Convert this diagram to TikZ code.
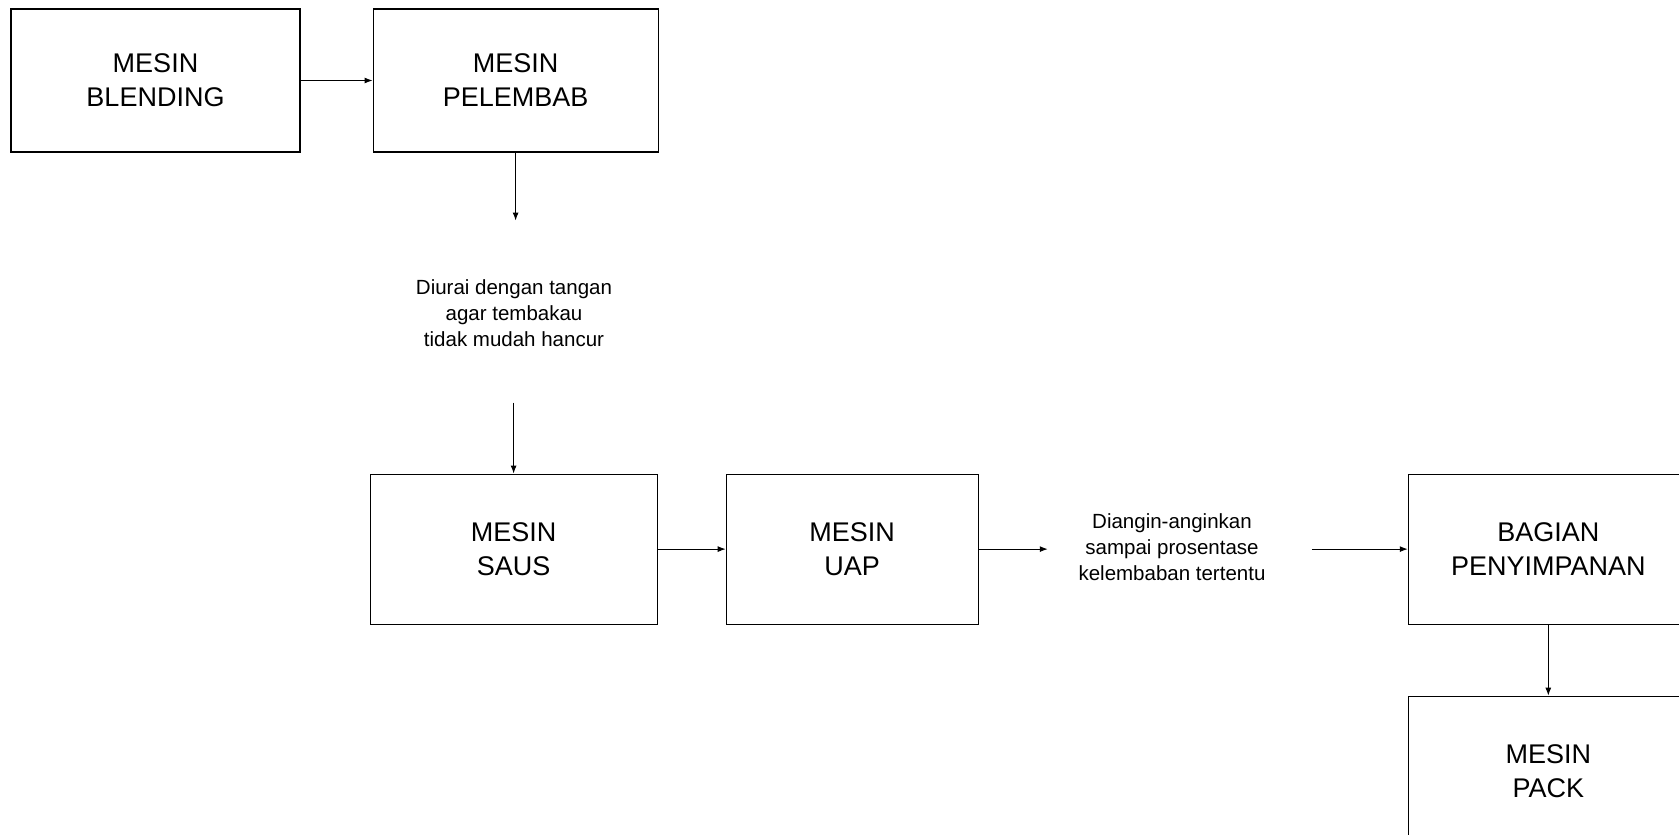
\documentclass[tikz,border=0pt]{standalone}
\usepackage{fontspec}
\setmainfont{Liberation Sans}
\usetikzlibrary{positioning,arrows.meta}

\begin{document}
\begin{tikzpicture}[x=1pt,y=-1pt,
    mesin/.style={draw, line width=1.1pt, minimum height=143pt, inner sep=0pt,
                  align=center, font=\fontsize{27}{34}\selectfont},
    ket/.style={align=center, font=\fontsize{20.5}{26}\selectfont},
    panah/.style={-{Latex[length=8pt,width=6pt]}, line width=1pt}]
    \clip (0,0) rectangle (1679,835);

    \node[mesin, minimum width=289pt] (blending) at (155.5,80.5) {MESIN\\BLENDING};
    \node[mesin, minimum width=285pt, right=72pt of blending] (pelembab) {MESIN\\PELEMBAB};
    \node[mesin, minimum width=287pt, minimum height=150pt, below=321pt of pelembab, xshift=-2pt] (saus) {MESIN\\SAUS};
    \node[mesin, minimum width=252pt, minimum height=150pt, right=68pt of saus] (uap) {MESIN\\UAP};
    \node[mesin, minimum width=280pt, minimum height=150pt, right=429pt of uap] (penyimpanan) {BAGIAN\\PENYIMPANAN};
    \node[mesin, minimum width=280pt, minimum height=150pt, below=71pt of penyimpanan] (pack) {MESIN\\PACK};

    \node[ket] (diurai) at (514,313) {Diurai dengan tangan\\agar tembakau\\tidak mudah hancur};
    \node[ket] (diangin) at (1172,547) {Diangin-anginkan\\sampai prosentase\\kelembaban tertentu};

    \coordinate[below=68pt of pelembab.south] (a1);
    \coordinate[above=71pt of saus.north] (a2);
    \coordinate[right=69pt of uap.east] (b1);
    \coordinate[left=96pt of penyimpanan.west] (b2);

    \draw[panah] (blending) -- (pelembab);
    \draw[panah] (pelembab.south) -- (a1);
    \draw[panah] (a2) -- (saus.north);
    \draw[panah] (saus) -- (uap);
    \draw[panah] (uap.east) -- (b1);
    \draw[panah] (b2) -- (penyimpanan.west);
    \draw[panah] (penyimpanan) -- (pack);
\end{tikzpicture}
\end{document}
